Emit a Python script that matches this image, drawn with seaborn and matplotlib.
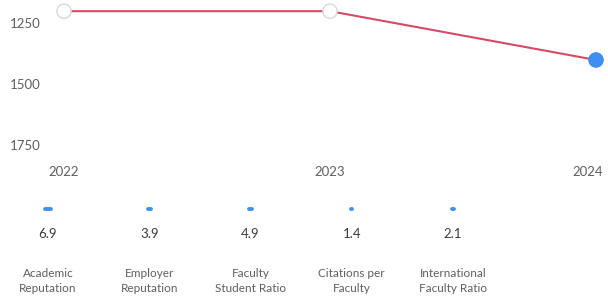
import matplotlib
matplotlib.use("Agg")
import matplotlib.pyplot as plt
import matplotlib.transforms as mtransforms
import seaborn as sns
import pandas as pd

years = ["2022", "2023", "2024"]
ranks = [1201, 1201, 1401]
rank_ticks = [1250, 1500, 1750]
metric_names = ["Academic\nReputation", "Employer\nReputation", "Faculty\nStudent Ratio",
                "Citations per\nFaculty", "International\nFaculty Ratio"]
metric_values = [6.9, 3.9, 4.9, 1.4, 2.1]

sns.set_theme(style="white")
plt.rcParams["font.family"] = ["Lato", "DejaVu Sans"]

W, H = 608, 301
fig = plt.figure(figsize=(W / 100, H / 100), dpi=100)
fig.patch.set_facecolor("white")

def px_axes(x0, y0, x1, y1):
    return fig.add_axes([x0 / W, 1 - y1 / H, (x1 - x0) / W, (y1 - y0) / H])

text_col = "#5f5f5f"
line_col = "#d64b63"
blue = "#3f8ff0"

# ---- top line chart ----
ax = px_axes(64, 8, 596, 150)
df = pd.DataFrame({"x": range(len(years)), "rank": ranks})
sns.lineplot(data=df, x="x", y="rank", ax=ax, color=line_col, lw=1.5, zorder=2)
face = ["white"] * (len(years) - 1) + [blue]
edge = ["#d8d8d8"] * (len(years) - 1) + [blue]
ax.scatter(df["x"], df["rank"], s=105, c=face, edgecolors=edge, linewidths=1.0,
           zorder=3, clip_on=False)
ax.set_xlim(0, 2)
ax.set_ylim(1770, 1188)
ax.set_yticks(rank_ticks)
ax.set_yticklabels([str(t) for t in rank_ticks])
ax.set_xticks(range(len(years)))
ax.set_xticklabels(years)
ax.tick_params(axis="y", length=0, pad=17, labelsize=9.5, labelcolor=text_col)
ax.tick_params(axis="x", length=0, pad=11.5, labelsize=9.5, labelcolor=text_col)
for s in ax.spines.values():
    s.set_visible(False)
ax.set_xlabel("")
ax.set_ylabel("")
ax.grid(False)
lbls = ax.get_xticklabels()
lbls[-1].set_transform(lbls[-1].get_transform() +
                       mtransforms.ScaledTranslation(-8 / 100, 0, fig.dpi_scale_trans))

# ---- bottom metrics ----
bx = px_axes(0, 190, W, H)
bx.set_xlim(-48 / 101.25, (W - 48) / 101.25)
bx.set_ylim(H, 190)
bx.axis("off")
scale = 0.008
for i, (name, v) in enumerate(zip(metric_names, metric_values)):
    half = v * scale / 2
    bx.hlines(209, i - half, i + half, color=blue, lw=2.8, capstyle="round")
    bx.text(i, 234, f"{v}", ha="center", va="center", fontsize=9.5, color="#3a3a3a")
    bx.text(i, 281, name, ha="center", va="center", fontsize=8.5, color=text_col,
            linespacing=1.55)

fig.savefig("out.png", dpi=100, facecolor="white")
